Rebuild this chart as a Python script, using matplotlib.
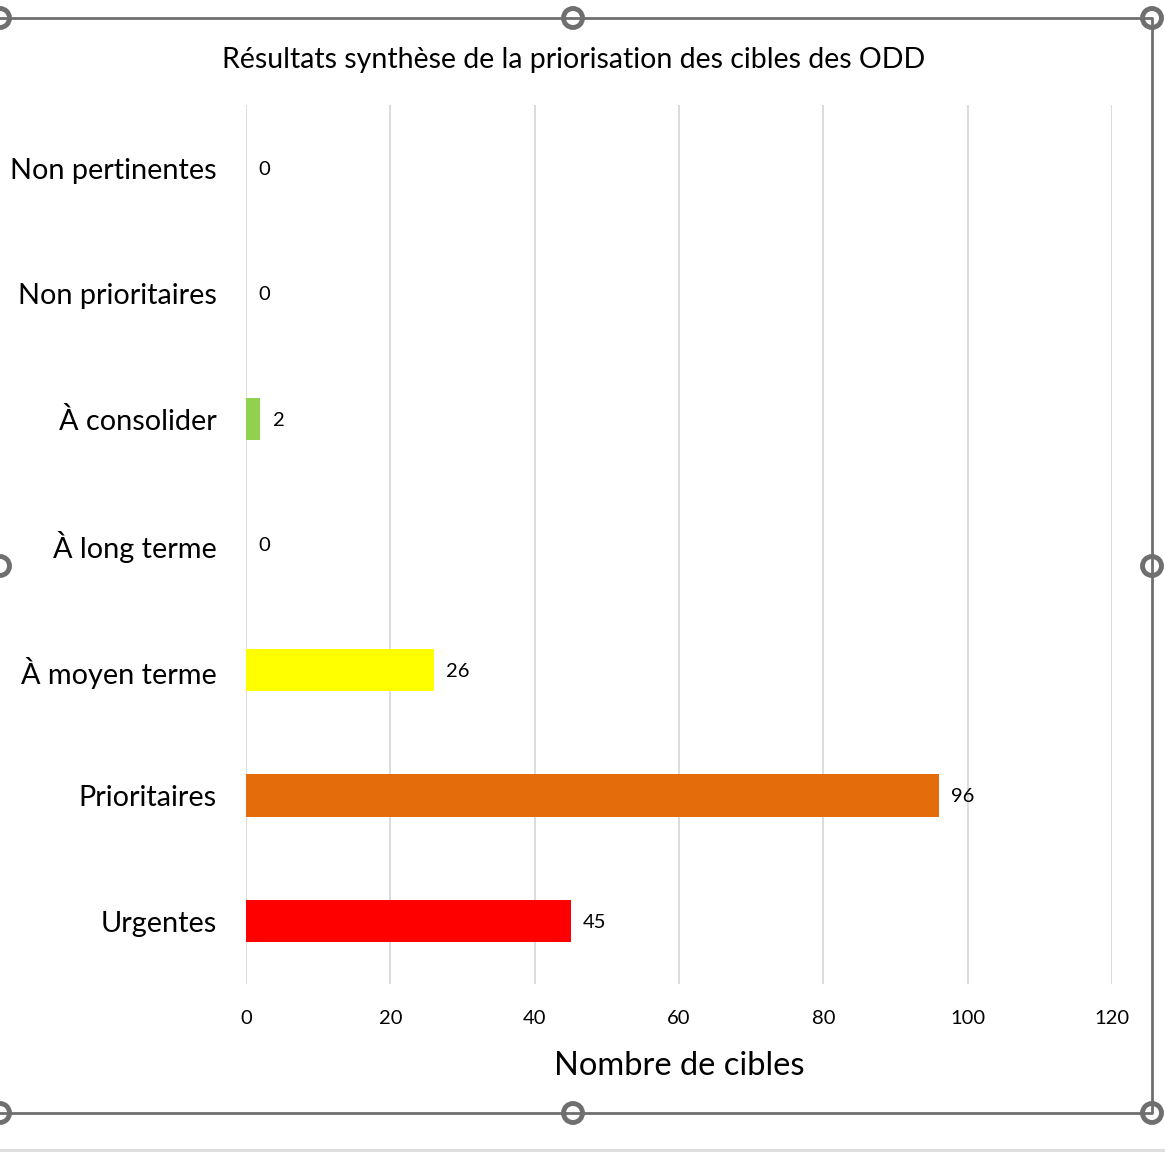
import numpy as np
import matplotlib.pyplot as plt
from matplotlib.patches import Circle

plt.rcParams['font.family'] = ['Lato', 'DejaVu Sans']

categories = ['Non pertinentes', 'Non prioritaires', 'À consolider', 'À long terme',
              'À moyen terme', 'Prioritaires', 'Urgentes']
values = [0, 0, 2, 0, 26, 96, 45]
colors = ['#a6a6a6', '#a6a6a6', '#92d050', '#a6a6a6', '#ffff00', '#e46c0a', '#ff0000']
xticks = [0, 20, 40, 60, 80, 100, 120]

W, H = 1165, 1152
fig = plt.figure(figsize=[W/100, H/100], dpi=100)
ax = fig.add_axes([246/W, 1-983.75/H, (1112-246)/W, (983.75-105.25)/H])

y = np.arange(len(categories))
ax.barh(y, values, height=0.34, color=colors, zorder=3)
ax.set_ylim(len(categories)-0.5, -0.5)
ax.set_xlim(0, 120)
ax.set_xticks(xticks)
ax.set_yticks(y)
ax.set_yticklabels(categories, fontsize=20.8)
ax.tick_params(axis='x', labelsize=14.5, length=0, pad=19)
ax.tick_params(axis='y', length=0, pad=21)
ax.grid(axis='x', color='#d9d9d9', linewidth=1.3, zorder=0)
for s in ax.spines.values():
    s.set_visible(False)

for yi, v in zip(y, values):
    ax.annotate(str(v), (v, yi), xytext=(9, -1), textcoords='offset points',
                va='center', ha='left', fontsize=14.5)

ax.set_xlabel('Nombre de cibles', fontsize=23.5, labelpad=17)
fig.text(574/W, 1-60/H, 'Résultats synthèse de la priorisation des cibles des ODD',
         ha='center', va='center', fontsize=20.5)

# selection frame of the chart object
ov = fig.add_axes([0, 0, 1, 1], zorder=10)
ov.set_xlim(0, W)
ov.set_ylim(H, 0)
ov.axis('off')
ov.patch.set_alpha(0)
fc = '#6f6f6f'
ov.plot([-2, 1152, 1152, -2], [18, 18, 1113, 1113], color=fc, linewidth=2)
ov.plot([0, 1165], [1150, 1150], color='#dcdcdc', linewidth=2)
for hx, hy in [(0, 18), (573, 18), (1152, 18), (0, 566), (1152, 566),
               (0, 1113), (573, 1113), (1152, 1113)]:
    ov.add_patch(Circle((hx, hy), 9.5, facecolor='white', edgecolor=fc, linewidth=3.5))

fig.savefig('out.png', dpi=100)
